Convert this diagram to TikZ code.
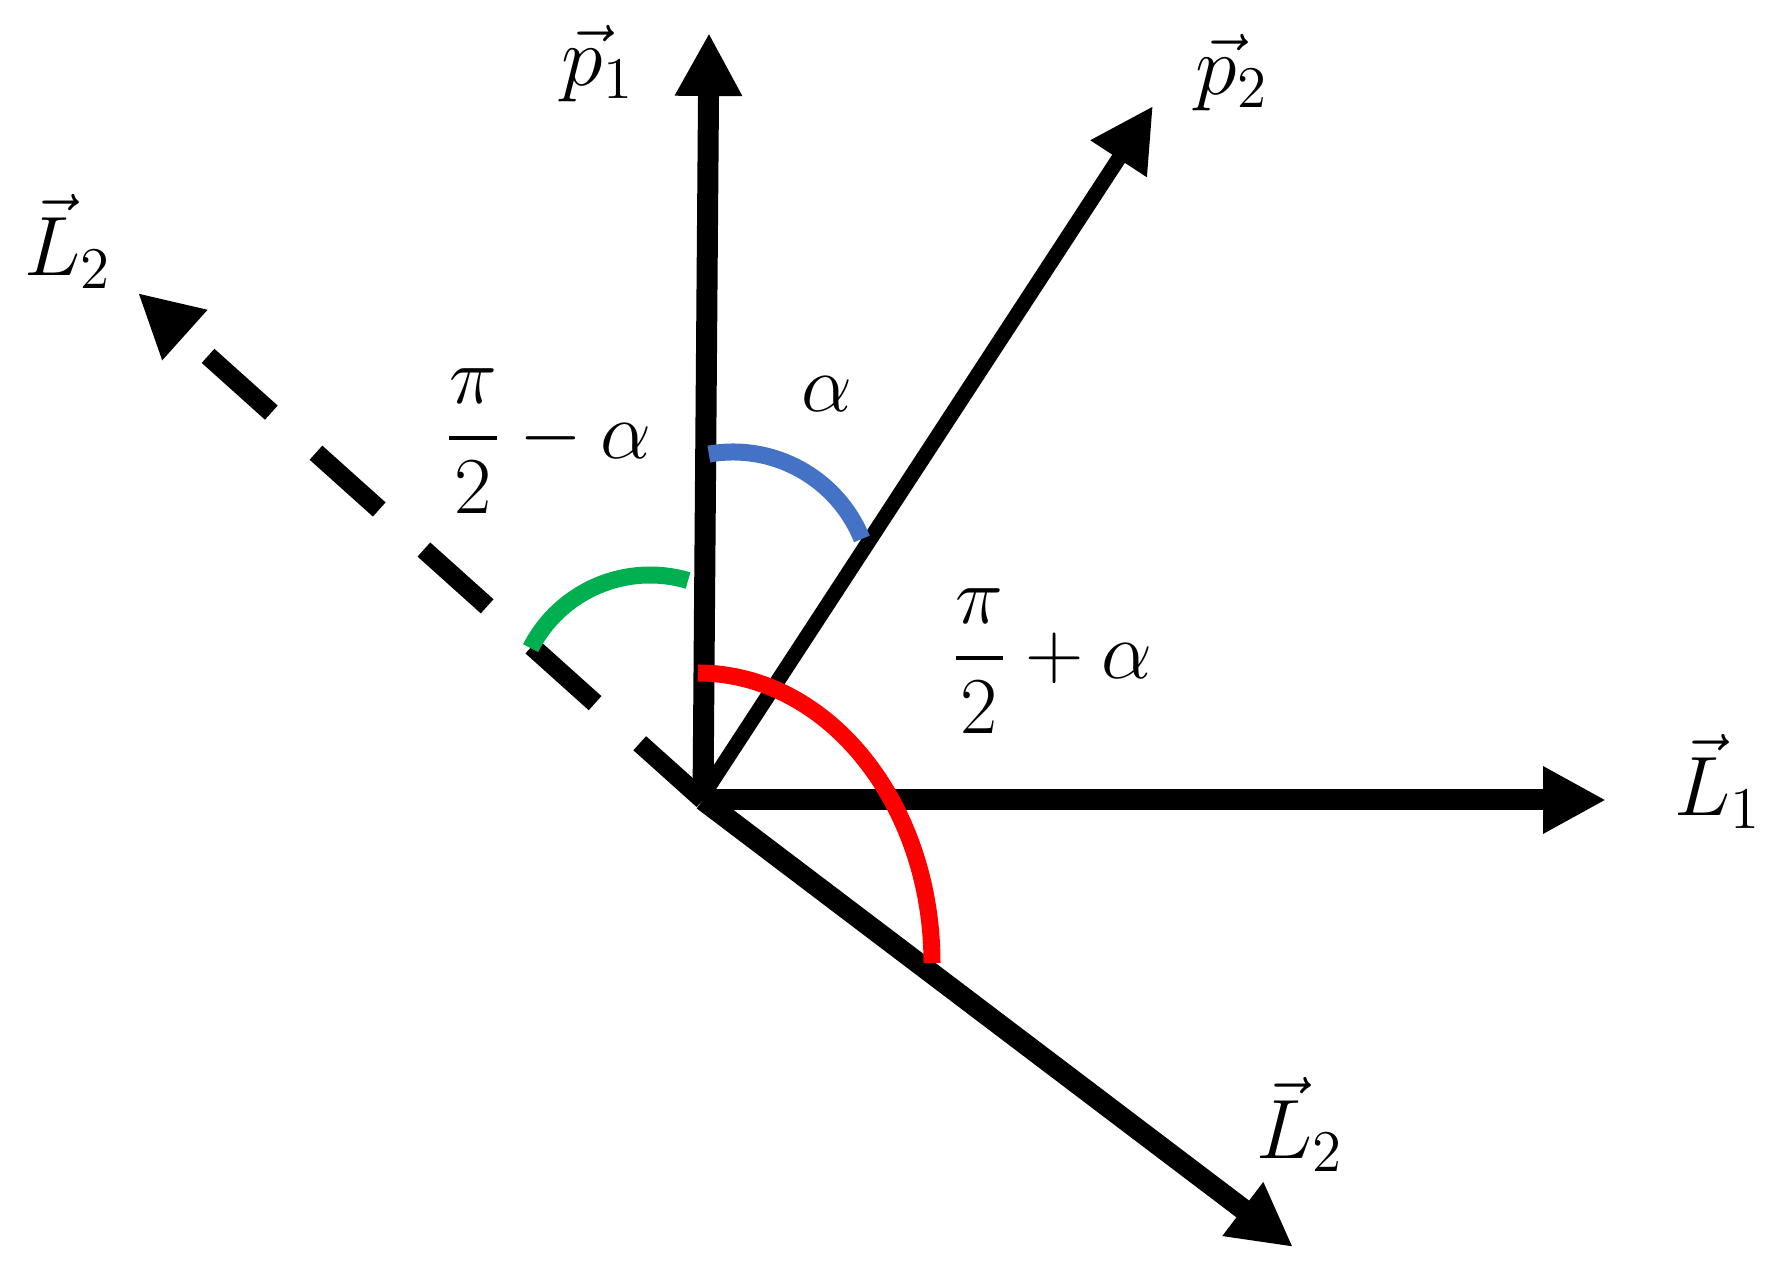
\RequirePackage{fix-cm}
\documentclass[tikz,border=0pt]{standalone}
\usepackage{amsmath}
\usetikzlibrary{arrows.meta}
\definecolor{arcblue}{RGB}{68,114,196}
\definecolor{arcgreen}{RGB}{0,176,80}
\definecolor{arcred}{RGB}{255,0,0}
\begin{document}
\begin{tikzpicture}[
	x=0.1mm, y=0.1mm,
	vec/.style={line width=2.1mm, -{Triangle[length=6.3mm,width=6.3mm]}},
	thinvec/.style={vec, line width=1.5mm},
	dashvec/.style={vec, line width=1.9mm, dash pattern=on 8.5mm off 6mm},
	anglemark/.style={line width=1.7mm},
	vlabel/.style={font=\fontsize{24}{28}\selectfont},
	alabel/.style={font=\fontsize{23}{27}\selectfont}]
   \useasboundingbox (0,0) rectangle (1773,1277);
   \coordinate (o) at (703,477);
   \coordinate (p1tip) at (709,1244);
   \coordinate (p2start) at (700,477);
   \coordinate (p2tip) at (1153,1171);
   \coordinate (l1tip) at (1606,477);
   \coordinate (l2tip) at (1293,30);
   \coordinate (l2backtip) at (138,984);
   \node[vlabel] (p1) at (598,1213) {$\vec{p}_1$};
   \node[vlabel] (p2) at (1232,1204) {$\vec{p}_2$};
   \node[vlabel] (l1) at (1718,496) {$\vec{L}_1$};
   \node[vlabel] (l2) at (1300,153) {$\vec{L}_2$};
   \node[vlabel] (l2back) at (68,1036) {$\vec{L}_2$};
   \node[alabel] (alpha) at (827,883) {$\alpha$};
   \node[alabel] (minusalpha) at (548,836) {$\dfrac{\pi}{2}-\alpha$};
   \node[alabel] (plusalpha) at (1052,616) {$\dfrac{\pi}{2}+\alpha$};
   \draw[dashvec] (o) -- (l2backtip);
   \draw[vec] (o) -- (p1tip);
   \draw[thinvec] (p2start) -- (p2tip);
   \draw[vec] (o) -- (l1tip);
   \draw[vec] (o) -- (l2tip);
   \draw[anglemark, arcblue] (733,686) ++(100:139) arc[start angle=100, end angle=22, radius=139];
   \draw[anglemark, arcgreen] (650,568) ++(73.5:134) arc[start angle=73.5, end angle=153, radius=134];
   \draw[anglemark, arcred] (698,604) arc[start angle=90, end angle=0, x radius=234, y radius=290];
\end{tikzpicture}
\end{document}
